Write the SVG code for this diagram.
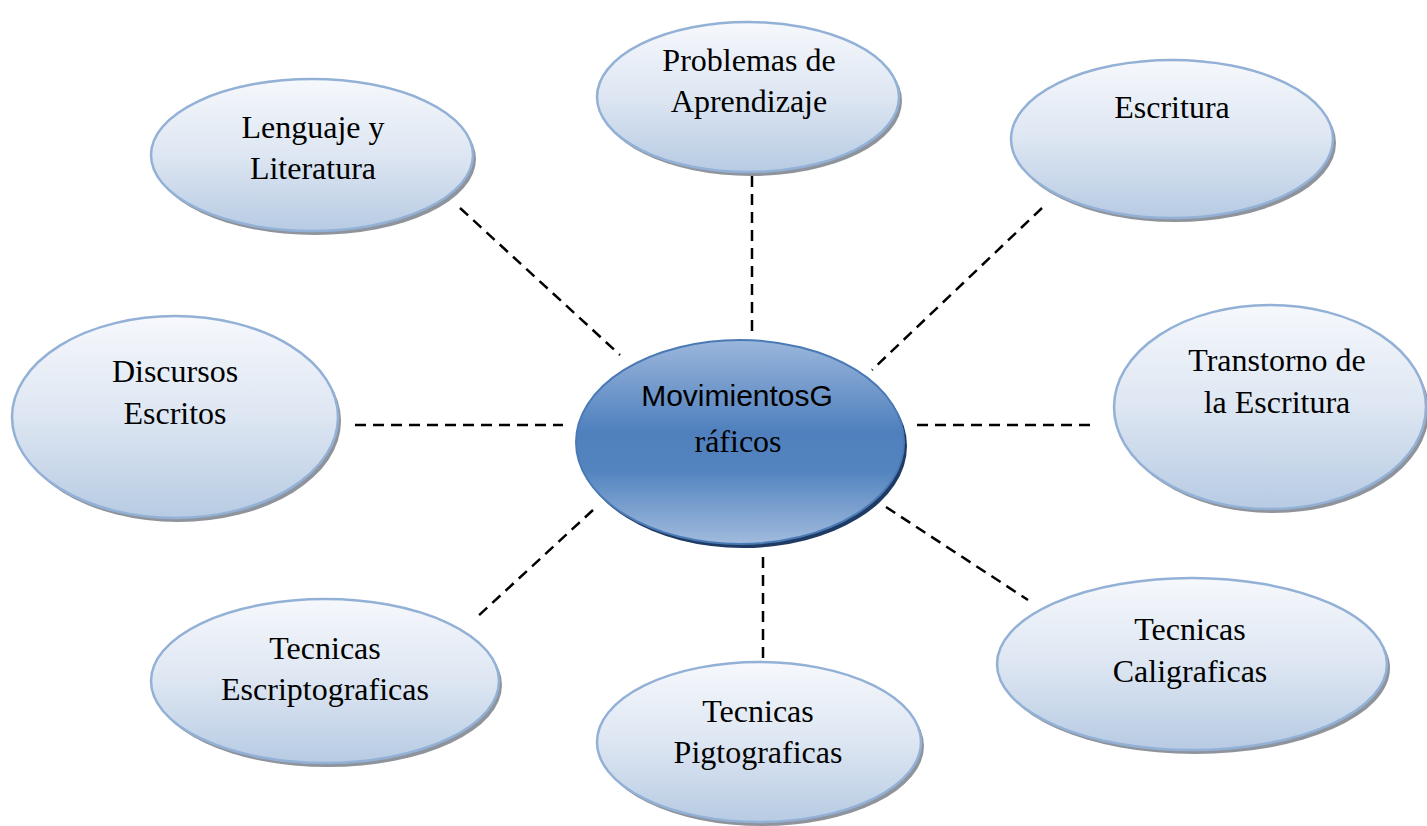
<svg xmlns="http://www.w3.org/2000/svg" width="1427" height="826" viewBox="0 0 1427 826">
<defs>
<linearGradient id="gOut" x1="0" y1="0" x2="0" y2="1">
<stop offset="0" stop-color="#f6f8fc"/>
<stop offset="0.5" stop-color="#dde6f2"/>
<stop offset="1" stop-color="#b7cbe3"/>
</linearGradient>
<linearGradient id="gCen" x1="0" y1="0" x2="0" y2="1">
<stop offset="0" stop-color="#9bb6dc"/>
<stop offset="0.45" stop-color="#4f80bd"/>
<stop offset="0.65" stop-color="#5585c0"/>
<stop offset="1" stop-color="#a1bbdd"/>
</linearGradient>
</defs>
<style>
.sh{fill:#8f949c;}
.shc{fill:#1f3a63;}
.out{fill:url(#gOut);stroke:#93b1d6;stroke-width:2.5;}
.cen{fill:url(#gCen);stroke:#4a7ab5;stroke-width:2;}
.t{font-family:"Liberation Serif","Times New Roman",serif;font-size:32px;fill:#000;text-anchor:middle;}
.ts{font-family:"Liberation Sans",Arial,sans-serif;font-size:30px;fill:#000;text-anchor:middle;}
.c{stroke:#000;stroke-width:2.5;stroke-dasharray:11 7;fill:none;}
</style>
<rect width="1427" height="826" fill="#fff"/>
<g id="connectors">
<line class="c" x1="460" y1="208" x2="620" y2="355"/>
<line class="c" x1="752" y1="176" x2="752" y2="332"/>
<line class="c" x1="1042" y1="208" x2="872" y2="370"/>
<line class="c" x1="355" y1="425" x2="563" y2="425"/>
<line class="c" x1="917" y1="425" x2="1097" y2="425"/>
<line class="c" x1="593" y1="510" x2="476" y2="618"/>
<line class="c" x1="763" y1="557" x2="763" y2="660"/>
<line class="c" x1="886" y1="507" x2="1028" y2="600"/>
</g>
<g id="n-center">
<ellipse class="shc" cx="743" cy="446" rx="164" ry="102"/>
<ellipse class="cen" cx="740" cy="442" rx="164" ry="102"/>
<text class="ts" x="737" y="406">MovimientosG</text>
<text class="t" x="738" y="452">ráficos</text>
</g>
<g id="n-lenguaje">
<ellipse class="sh" cx="315" cy="159" rx="161" ry="76"/>
<ellipse class="out" cx="312" cy="155" rx="161" ry="76"/>
<text class="t" x="313" y="138">Lenguaje y</text>
<text class="t" x="313" y="179">Literatura</text>
</g>
<g id="n-problemas">
<ellipse class="sh" cx="751" cy="101" rx="151" ry="75"/>
<ellipse class="out" cx="748" cy="97" rx="151" ry="75"/>
<text class="t" x="749" y="71">Problemas de</text>
<text class="t" x="749" y="112">Aprendizaje</text>
</g>
<g id="n-escritura">
<ellipse class="sh" cx="1175" cy="143" rx="161" ry="79"/>
<ellipse class="out" cx="1172" cy="139" rx="161" ry="79"/>
<text class="t" x="1172" y="118">Escritura</text>
</g>
<g id="n-discursos">
<ellipse class="sh" cx="178" cy="421" rx="163" ry="101"/>
<ellipse class="out" cx="175" cy="417" rx="163" ry="101"/>
<text class="t" x="175" y="382">Discursos</text>
<text class="t" x="175" y="424">Escritos</text>
</g>
<g id="n-transtorno">
<ellipse class="sh" cx="1273" cy="411" rx="156" ry="102"/>
<ellipse class="out" cx="1270" cy="407" rx="156" ry="102"/>
<text class="t" x="1277" y="371">Transtorno de</text>
<text class="t" x="1277" y="413">la Escritura</text>
</g>
<g id="n-escriptograficas">
<ellipse class="sh" cx="328" cy="685" rx="174" ry="82"/>
<ellipse class="out" cx="325" cy="681" rx="174" ry="82"/>
<text class="t" x="325" y="659">Tecnicas</text>
<text class="t" x="325" y="700">Escriptograficas</text>
</g>
<g id="n-pigtograficas">
<ellipse class="sh" cx="762" cy="746" rx="162" ry="80"/>
<ellipse class="out" cx="759" cy="742" rx="162" ry="80"/>
<text class="t" x="758" y="722">Tecnicas</text>
<text class="t" x="758" y="763">Pigtograficas</text>
</g>
<g id="n-caligraficas">
<ellipse class="sh" cx="1195" cy="668" rx="195" ry="86"/>
<ellipse class="out" cx="1192" cy="664" rx="195" ry="86"/>
<text class="t" x="1190" y="640">Tecnicas</text>
<text class="t" x="1190" y="682">Caligraficas</text>
</g>
</svg>
